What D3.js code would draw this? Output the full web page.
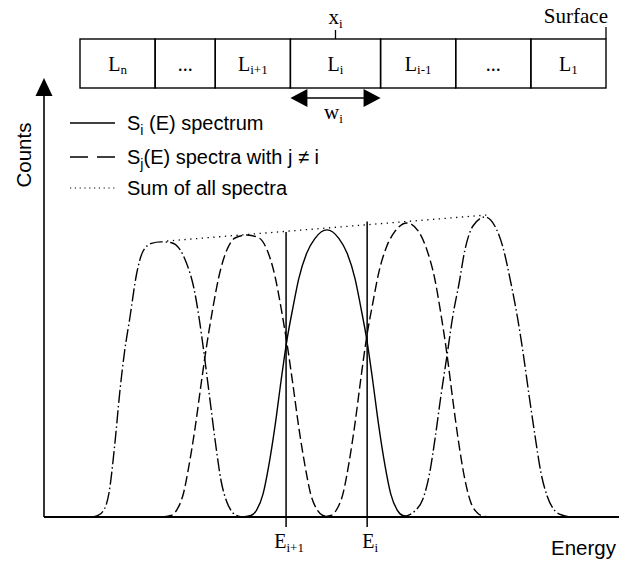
<!DOCTYPE html>
<html>
<head>
<meta charset="utf-8">
<script src="https://cdn.jsdelivr.net/npm/d3@7"></script>
<style>
  body { margin: 0; background: #fff; }
</style>
</head>
<body>
<div id="chart"></div>
<script>
// ---- layer strip (depth units, surface at the right) ----
var layerBounds = [0, 1, 1.8, 2.8, 4.0, 5.0, 6.0, 7.0];
var layerNames = ["L", "...", "L", "L", "L", "...", "L"];
var layerSubs = ["n", "", "i+1", "i", "i-1", "", "1"];

// ---- spectra (energy, counts) ----
var peak1E = [8.3, 9.3, 10.3, 11.3, 12.3, 13.2, 14.0, 14.9, 16.1, 17.2, 18.7, 20.3, 22.0, 23.7, 24.7, 26.1, 27.0, 27.8, 28.8, 29.8, 30.8, 31.8, 32.8, 33.8, 34.6];
var peak1C = [0, 0.5, 2, 8, 24, 42, 55, 66, 81, 88.5, 91.2, 91.7, 91.5, 89, 85, 76, 66, 55, 40, 25, 12, 5, 1.5, 0.3, 0];
var peak2E = [20.7, 22.1, 23.1, 24.2, 25.2, 26.3, 27.3, 28.3, 29.4, 30.4, 31.8, 33.2, 35.3, 37.4, 38.8, 40.2, 41.2, 42.3, 43.3, 44.3, 45.4, 46.4, 47.5, 48.5, 49.9];
var peak2C = [0, 0.5, 2.4, 7.5, 17, 30, 44, 57.3, 70, 80, 89, 93, 94, 93, 89, 80, 70, 57.3, 44, 30, 17, 7.5, 2.4, 0.5, 0];
var peak3E = [34.6, 36.0, 37.0, 38.1, 39.1, 40.2, 41.2, 42.2, 43.3, 44.3, 45.7, 47.1, 49.2, 51.3, 52.7, 54.1, 55.1, 56.2, 57.2, 58.2, 59.3, 60.3, 61.4, 62.4, 63.8];
var peak3C = [0, 0.5, 2.4, 7.7, 17.2, 30.6, 45.0, 58.4, 69.9, 79.4, 88.0, 92.8, 95.7, 92.8, 88.0, 79.4, 69.9, 58.4, 45.0, 30.6, 17.2, 7.7, 2.4, 0.5, 0];
var peak4E = [48.5, 49.9, 50.9, 52.0, 53.0, 54.1, 55.1, 56.1, 57.2, 58.2, 59.6, 61.0, 63.1, 65.2, 66.6, 68.0, 69.0, 70.1, 71.1, 72.1, 73.2, 74.2, 75.3, 76.3, 77.7];
var peak4C = [0, 0.5, 2.5, 7.8, 17.6, 31.4, 46.1, 59.8, 71.5, 81.3, 90.2, 95.1, 98, 95, 89, 79, 68, 54, 39, 25, 12.5, 5, 1.5, 0.3, 0];
var peak5E = [61.7, 63.1, 64.5, 65.9, 67.0, 68.0, 69.0, 70.1, 71.1, 72.2, 73.2, 74.6, 76.7, 78.4, 79.8, 81.2, 82.3, 83.3, 84.4, 85.4, 86.4, 87.5, 88.9, 90.3, 91.7];
var peak5C = [0, 0.4, 2, 6, 14, 26, 40, 54, 67, 78, 89, 97, 100, 97, 90, 78, 67, 55, 40, 27, 15, 7, 2, 0.5, 0];

// sum of all spectra (dotted)
var sumE = [21.4, 77.2];
var sumC = [92, 100.7];

// boundary energies E_{i+1}, E_i
var edgeE = [42.1, 56.2];
var edgeTopC = [95, 98.5];
var edgeNames = ["E", "E"];
var edgeSubs = ["i+1", "i"];

// legend
var legendMain = ["S", "S", "Sum of all spectra"];
var legendSub = ["i", "j", ""];
var legendRest = [" (E) spectrum", "(E) spectra with j \u2260 i", ""];

// ---------------------------------------------------------------
var width = 619, height = 562;
var serif = "'Liberation Serif', 'Times New Roman', serif";
var sans = "'Liberation Sans', Arial, Helvetica, sans-serif";

var svg = d3.select("#chart").append("svg")
  .attr("width", width)
  .attr("height", height)
  .style("display", "block");

var xScale = d3.scaleLinear().domain([0, 100]).range([44, 619]);
var yScale = d3.scaleLinear().domain([0, 100]).range([517, 217]);
var depthScale = d3.scaleLinear().domain([0, 7]).range([80, 606]);

// ---- layer strip ----
var stripTop = 39, stripBottom = 88;
var strip = svg.append("g");
strip.selectAll("rect")
  .data(layerNames)
  .enter().append("rect")
  .attr("x", (d, i) => depthScale(layerBounds[i]))
  .attr("y", stripTop)
  .attr("width", (d, i) => depthScale(layerBounds[i + 1]) - depthScale(layerBounds[i]))
  .attr("height", stripBottom - stripTop)
  .style("fill", "none")
  .style("stroke", "#000")
  .style("stroke-width", "1.4px");

var lab = strip.selectAll("text.layer")
  .data(layerNames)
  .enter().append("text")
  .classed("layer", true)
  .attr("x", (d, i) => (depthScale(layerBounds[i]) + depthScale(layerBounds[i + 1])) / 2)
  .attr("y", 71)
  .attr("text-anchor", "middle")
  .style("font-family", serif)
  .style("font-size", "20px");
lab.append("tspan").text(d => d);
lab.append("tspan")
  .attr("dy", 3)
  .style("font-size", "13px")
  .text((d, i) => layerSubs[i]);

// x_i marker at layer i centre
var xiPos = (depthScale(layerBounds[3]) + depthScale(layerBounds[4])) / 2;
strip.append("line")
  .attr("x1", xiPos).attr("x2", xiPos)
  .attr("y1", 30).attr("y2", stripTop)
  .style("stroke", "#000").style("stroke-width", "1.3px");
var xiText = strip.append("text")
  .attr("x", xiPos).attr("y", 24)
  .attr("text-anchor", "middle")
  .style("font-family", serif).style("font-size", "21px");
xiText.append("tspan").text("x");
xiText.append("tspan").attr("dy", 4).style("font-size", "13px").text("i");

// surface marker
var surfX = depthScale(7);
strip.append("line")
  .attr("x1", surfX).attr("x2", surfX)
  .attr("y1", 27).attr("y2", stripTop)
  .style("stroke", "#000").style("stroke-width", "1.3px");
strip.append("text")
  .attr("x", surfX + 2).attr("y", 23)
  .attr("text-anchor", "end")
  .style("font-family", serif).style("font-size", "21px")
  .text("Surface");

// w_i double arrow
var wL = depthScale(layerBounds[3]), wR = depthScale(layerBounds[4]), wY = 98;
strip.append("line")
  .attr("x1", wL + 14).attr("x2", wR - 14)
  .attr("y1", wY).attr("y2", wY)
  .style("stroke", "#000").style("stroke-width", "1.4px");
strip.append("path")
  .attr("d", "M" + wL + "," + wY + "L" + (wL + 17) + "," + (wY - 9) + "L" + (wL + 17) + "," + (wY + 9) + "Z" +
             "M" + wR + "," + wY + "L" + (wR - 17) + "," + (wY - 9) + "L" + (wR - 17) + "," + (wY + 9) + "Z")
  .style("fill", "#000");
var wText = strip.append("text")
  .attr("x", xiPos - 2).attr("y", 119)
  .attr("text-anchor", "middle")
  .style("font-family", serif).style("font-size", "21px");
wText.append("tspan").text("w");
wText.append("tspan").attr("dy", 4).style("font-size", "13px").text("i");

// ---- axes ----
var axisG = svg.append("g");
axisG.append("line")
  .attr("x1", xScale(0)).attr("x2", xScale(0))
  .attr("y1", yScale(0)).attr("y2", 94)
  .style("stroke", "#000").style("stroke-width", "1.6px");
axisG.append("path")
  .attr("d", "M" + xScale(0) + ",78L" + (xScale(0) - 8.5) + ",96L" + (xScale(0) + 8.5) + ",96Z")
  .style("fill", "#000");
axisG.append("line")
  .attr("x1", xScale(0)).attr("x2", xScale(100))
  .attr("y1", yScale(0)).attr("y2", yScale(0))
  .style("stroke", "#000").style("stroke-width", "2px");

axisG.append("text")
  .attr("transform", "translate(31," + 155 + ") rotate(-90)")
  .attr("text-anchor", "middle")
  .style("font-family", sans).style("font-size", "20.5px")
  .text("Counts");
axisG.append("text")
  .attr("x", 616).attr("y", 555)
  .attr("text-anchor", "end")
  .style("font-family", sans).style("font-size", "20.5px")
  .text("Energy");

// ---- spectra ----
var peaks = [
  {E: peak1E, C: peak1C, dash: "13,3,1.5,3"},
  {E: peak2E, C: peak2C, dash: "10,4"},
  {E: peak3E, C: peak3C, dash: null},
  {E: peak4E, C: peak4C, dash: "10,4"},
  {E: peak5E, C: peak5C, dash: "13,3,1.5,3"}
];

var lineGen = d3.line()
  .x(d => xScale(d[0]))
  .y(d => yScale(d[1]))
  .curve(d3.curveMonotoneX);

svg.append("g").selectAll("path")
  .data(peaks)
  .enter().append("path")
  .attr("d", p => lineGen(p.E.map((e, i) => [e, p.C[i]])))
  .style("fill", "none")
  .style("stroke", "#000")
  .style("stroke-width", "1.4px")
  .style("stroke-dasharray", p => p.dash);

// sum of all spectra
svg.append("path")
  .attr("d", d3.line().x(d => xScale(d[0])).y(d => yScale(d[1]))(sumE.map((e, i) => [e, sumC[i]])))
  .style("fill", "none")
  .style("stroke", "#000")
  .style("stroke-width", "1.3px")
  .style("stroke-dasharray", "1.3,4.5");

// E_{i+1}, E_i boundaries
var edges = svg.append("g");
edges.selectAll("line")
  .data(edgeE)
  .enter().append("line")
  .attr("x1", d => xScale(d)).attr("x2", d => xScale(d))
  .attr("y1", yScale(0) + 10)
  .attr("y2", (d, i) => yScale(edgeTopC[i]))
  .style("stroke", "#000").style("stroke-width", "1.5px");
var et = edges.selectAll("text")
  .data(edgeE)
  .enter().append("text")
  .attr("x", d => xScale(d) + 3)
  .attr("y", 548)
  .attr("text-anchor", "middle")
  .style("font-family", serif).style("font-size", "20px");
et.append("tspan").text((d, i) => edgeNames[i]);
et.append("tspan").attr("dy", 4).style("font-size", "13px").text((d, i) => edgeSubs[i]);

// ---- legend ----
var legY = [123, 157, 188];
var leg = svg.append("g");
leg.append("line")
  .attr("x1", 70).attr("x2", 115).attr("y1", legY[0]).attr("y2", legY[0])
  .style("stroke", "#000").style("stroke-width", "1.3px");
leg.append("line")
  .attr("x1", 70).attr("x2", 115).attr("y1", legY[1]).attr("y2", legY[1])
  .style("stroke", "#000").style("stroke-width", "1.3px")
  .style("stroke-dasharray", "18,9");
leg.append("line")
  .attr("x1", 70).attr("x2", 115).attr("y1", legY[2]).attr("y2", legY[2])
  .style("stroke", "#000").style("stroke-width", "1.2px")
  .style("stroke-dasharray", "1.2,3.6");

var lt = leg.selectAll("text")
  .data(legendMain)
  .enter().append("text")
  .attr("x", 127)
  .attr("y", (d, i) => legY[i] + 7)
  .style("font-family", sans).style("font-size", "20px");
lt.append("tspan").text(d => d);
lt.append("tspan").attr("dy", 5).style("font-size", "14px").text((d, i) => legendSub[i]);
lt.append("tspan").attr("dy", -5).text((d, i) => legendRest[i]);
</script>
</body>
</html>
